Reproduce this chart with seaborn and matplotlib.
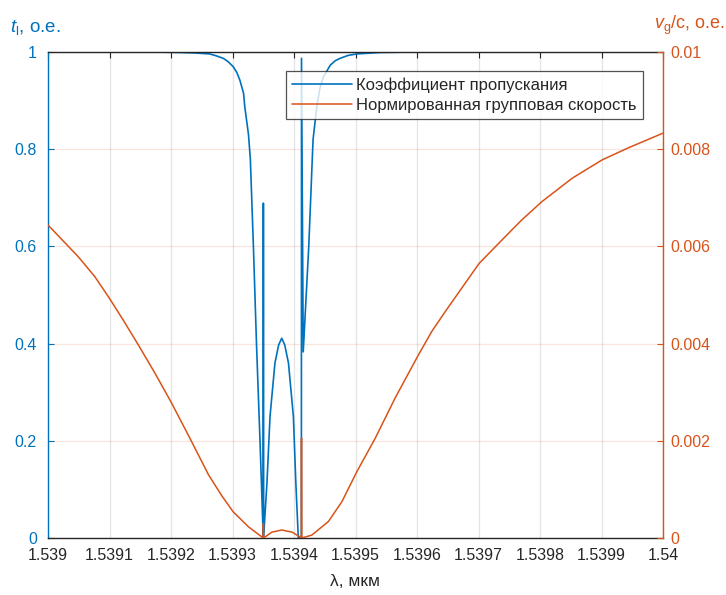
import matplotlib
matplotlib.use("Agg")
import matplotlib.pyplot as plt
import seaborn as sns
import pandas as pd

# wavelength, um (transmission curve)
wl_t = [1.539000, 1.539166, 1.539215, 1.539239, 1.539263, 1.539274, 1.539285,
        1.539293, 1.539301, 1.539307, 1.539312, 1.539318, 1.539320, 1.539326,
        1.539329, 1.539334, 1.539339, 1.539345, 1.539350, 1.5393502, 1.5393505,
        1.539356, 1.539361, 1.539369, 1.539375, 1.539380, 1.539385, 1.539391,
        1.539399, 1.539403, 1.539407, 1.539412, 1.5394122, 1.539415, 1.539424,
        1.539431, 1.539437, 1.539442, 1.539448, 1.539459, 1.539467, 1.539475,
        1.539488, 1.539502, 1.539540, 1.539600, 1.540000]
# transmission coefficient
trans = [1.000, 1.000, 0.999, 0.998, 0.996, 0.992, 0.987,
         0.980, 0.970, 0.958, 0.942, 0.915, 0.887, 0.830,
         0.780, 0.600, 0.400, 0.190, 0.000, 0.689, 0.000,
         0.113, 0.250, 0.360, 0.397, 0.411, 0.397, 0.360,
         0.250, 0.113, 0.000, 0.000, 0.987, 0.383, 0.600,
         0.820, 0.887, 0.925, 0.949, 0.973, 0.982, 0.987,
         0.993, 0.996, 0.999, 1.000, 1.000]

# wavelength, um (group velocity curve)
wl_v = [1.539000, 1.539049, 1.539076, 1.539100, 1.539122, 1.539147, 1.539174,
        1.539200, 1.539228, 1.539261, 1.539282, 1.539301, 1.539326, 1.539350,
        1.5393502, 1.5393505, 1.539364, 1.539380, 1.539397, 1.539410, 1.539412,
        1.5394122, 1.5394125, 1.539429, 1.539456, 1.539478, 1.539502, 1.539532,
        1.539564, 1.539602, 1.539624, 1.539646, 1.539701, 1.539738, 1.539770,
        1.539803, 1.539852, 1.539901, 1.539944, 1.540000]
# normalized group velocity
vg = [0.00644, 0.00579, 0.00538, 0.00493, 0.00449, 0.00397, 0.00339,
      0.00280, 0.00212, 0.00130, 0.00088, 0.00054, 0.00023, 0.00000,
      0.00030, 0.00000, 0.00012, 0.000165, 0.00012, 0.00002, 0.00000,
      0.00206, 0.00000, 0.00006, 0.00034, 0.00075, 0.00136, 0.00205,
      0.00287, 0.00376, 0.00425, 0.00466, 0.00565, 0.00613, 0.00654,
      0.00692, 0.00740, 0.00778, 0.00803, 0.00833]

xticks = [1.539, 1.5391, 1.5392, 1.5393, 1.5394, 1.5395, 1.5396, 1.5397, 1.5398, 1.5399, 1.54]
yticks_l = [0, 0.2, 0.4, 0.6, 0.8, 1]
yticks_r = [0, 0.002, 0.004, 0.006, 0.008, 0.01]

blue = "#0072BD"
orange = "#D95319"
dark = "#262626"

sns.set_style("white")
plt.rcParams['font.family'] = ['Liberation Sans', 'DejaVu Sans']
plt.rcParams['mathtext.fontset'] = 'custom'
plt.rcParams['mathtext.rm'] = 'Liberation Sans'
plt.rcParams['mathtext.it'] = 'Liberation Sans:italic'

df_t = pd.DataFrame({'wl': wl_t, 't': trans})
df_v = pd.DataFrame({'wl': wl_v, 'v': vg})

fig = plt.figure(figsize=(7.26, 5.95), dpi=100)
ax = fig.add_axes([48 / 726, 57 / 595, 615 / 726, 486 / 595])
ax2 = ax.twinx()

sns.lineplot(data=df_t, x='wl', y='t', ax=ax, color=blue, lw=1.2,
             estimator=None, sort=False, label="Коэффициент пропускания", legend=False)
sns.lineplot(data=df_v, x='wl', y='v', ax=ax2, color=orange, lw=1.1,
             estimator=None, sort=False, label="Нормированная групповая скорость", legend=False)

ax.set_xlim(1.539, 1.54)
ax.set_ylim(0, 1)
ax2.set_ylim(0, 0.01)
ax.set_xticks(xticks)
ax.set_xticklabels([f"{v:g}" for v in xticks])
ax.set_yticks(yticks_l)
ax.set_yticklabels([f"{v:g}" for v in yticks_l])
ax2.set_yticks(yticks_r)
ax2.set_yticklabels([f"{v:g}" for v in yticks_r])
ax.set_ylabel("")
ax2.set_ylabel("")

ax.grid(axis='x', color=dark, alpha=0.12, lw=0.9)
ax.grid(axis='y', color=orange, alpha=0.15, lw=0.9)

ax.tick_params(axis='x', direction='in', top=True, length=4, colors=dark, labelsize=11.5, pad=7)
ax.tick_params(axis='y', direction='in', length=4, colors=blue, labelsize=11.5, pad=8)
ax2.tick_params(axis='y', direction='in', length=4, colors=orange, labelsize=11.5, pad=5)

for s in ['top', 'bottom']:
    ax.spines[s].set_color(dark)
    ax2.spines[s].set_visible(False)
ax.spines['left'].set_color(blue)
ax.spines['right'].set_visible(False)
ax2.spines['left'].set_visible(False)
ax2.spines['right'].set_color(orange)
for s in ax.spines.values():
    s.set_linewidth(1.0)
ax2.spines['right'].set_linewidth(1.0)

ax.set_xlabel("λ, мкм", fontsize=12.5, color=dark, labelpad=8)
ax.text(-0.062, 1.03, r"$t_\mathrm{l}$, o.e.", transform=ax.transAxes,
        fontsize=13.5, color=blue, ha='left', va='bottom')
ax2.text(0.985, 1.03, r"$v_\mathrm{g}$/c, o.e.", transform=ax.transAxes,
         fontsize=13, color=orange, ha='left', va='bottom')

h1, l1 = ax.get_legend_handles_labels()
h2, l2 = ax2.get_legend_handles_labels()
leg = ax2.legend(h1 + h2, l1 + l2, loc='upper right', bbox_to_anchor=(0.967, 0.96),
                 fontsize=12, frameon=True, fancybox=False, handlelength=3.6,
                 borderpad=0.35, labelspacing=0.3, handletextpad=0.25, borderaxespad=0)
leg.get_frame().set_edgecolor(dark)
leg.get_frame().set_linewidth(0.9)

fig.savefig("out.png", dpi=100)
